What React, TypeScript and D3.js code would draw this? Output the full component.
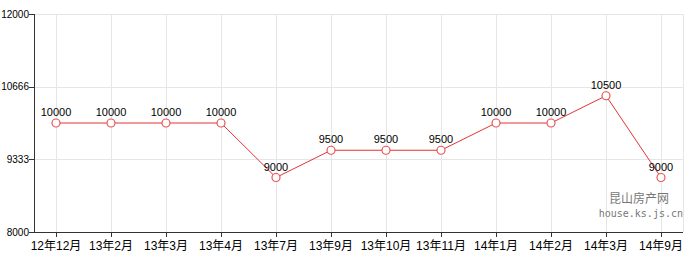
import React from "react";
import * as d3 from "d3";

const categories = ["12年12月","13年2月","13年3月","13年4月","13年7月","13年9月","13年10月","13年11月","14年1月","14年2月","14年3月","14年9月"];
const values = [10000,10000,10000,10000,9000,9500,9500,9500,10000,10000,10500,9000];
const yTicks = [8000, 9333, 10666, 12000];

export default function App() {
  const W = 690, H = 260;
  const left = 34, right = 683, top = 14, bottom = 232;
  const x = d3.scalePoint<string>().domain(categories).range([left, right]).padding(0.4);
  const y = d3.scaleLinear().domain([8000, 12000]).range([bottom, top]);
  const line = d3.line<number>().x((_, i) => x(categories[i])!).y(d => y(d));
  const font = "'Liberation Sans', 'Noto Sans CJK SC', sans-serif";
  return (
    <svg width={W} height={H} style={{ position: "absolute", left: 0, top: 0 }}>
      <rect width={W} height={H} fill="#fff" />
      {categories.map(c => (
        <line key={c} x1={Math.round(x(c)!) + 0.5} x2={Math.round(x(c)!) + 0.5} y1={top} y2={bottom} stroke="#e6e6e6" />
      ))}
      <line x1={right + 0.5} x2={right + 0.5} y1={top} y2={bottom} stroke="#e6e6e6" />
      {yTicks.filter(t => t !== 8000).map(t => (
        <line key={t} x1={left} x2={right} y1={Math.round(y(t)) + 0.5} y2={Math.round(y(t)) + 0.5} stroke="#e6e6e6" />
      ))}
      <line x1={left + 0.5} x2={left + 0.5} y1={top} y2={bottom} stroke="#333" />
      <line x1={left} x2={right} y1={bottom + 0.5} y2={bottom + 0.5} stroke="#333" />
      {yTicks.map(t => (
        <g key={t}>
          <line x1={left - 5} x2={left} y1={Math.round(y(t)) + 0.5} y2={Math.round(y(t)) + 0.5} stroke="#333" />
          <text x={left - 5} y={y(t)} dy="0.35em" textAnchor="end" fontSize={10} fontFamily={font} fill="#000">{t}</text>
        </g>
      ))}
      {categories.map(c => (
        <g key={c}>
          <line x1={Math.round(x(c)!) + 0.5} x2={Math.round(x(c)!) + 0.5} y1={bottom} y2={bottom + 5} stroke="#333" />
          <text x={x(c)} y={bottom + 18} textAnchor="middle" fontSize={12} fontFamily={font} fill="#000">{c}</text>
        </g>
      ))}
      <path d={line(values)!} fill="none" stroke="#e53333" strokeWidth={1} />
      {values.map((v, i) => (
        <g key={i}>
          <circle cx={x(categories[i])} cy={y(v)} r={4} fill="#fff" stroke="#e55555" strokeWidth={1.2} />
          <text x={x(categories[i])} y={y(v) - 7} textAnchor="middle" fontSize={11} fontFamily={font} fill="#000">{v}</text>
        </g>
      ))}
      <text x={669} y={203} textAnchor="end" fontSize={12} fontFamily="'Noto Sans CJK SC', sans-serif" fill="#777">昆山房产网</text>
      <text x={683} y={217} textAnchor="end" fontSize={10} fontFamily="'DejaVu Sans Mono', monospace" fill="#777">house.ks.js.cn</text>
    </svg>
  );
}
